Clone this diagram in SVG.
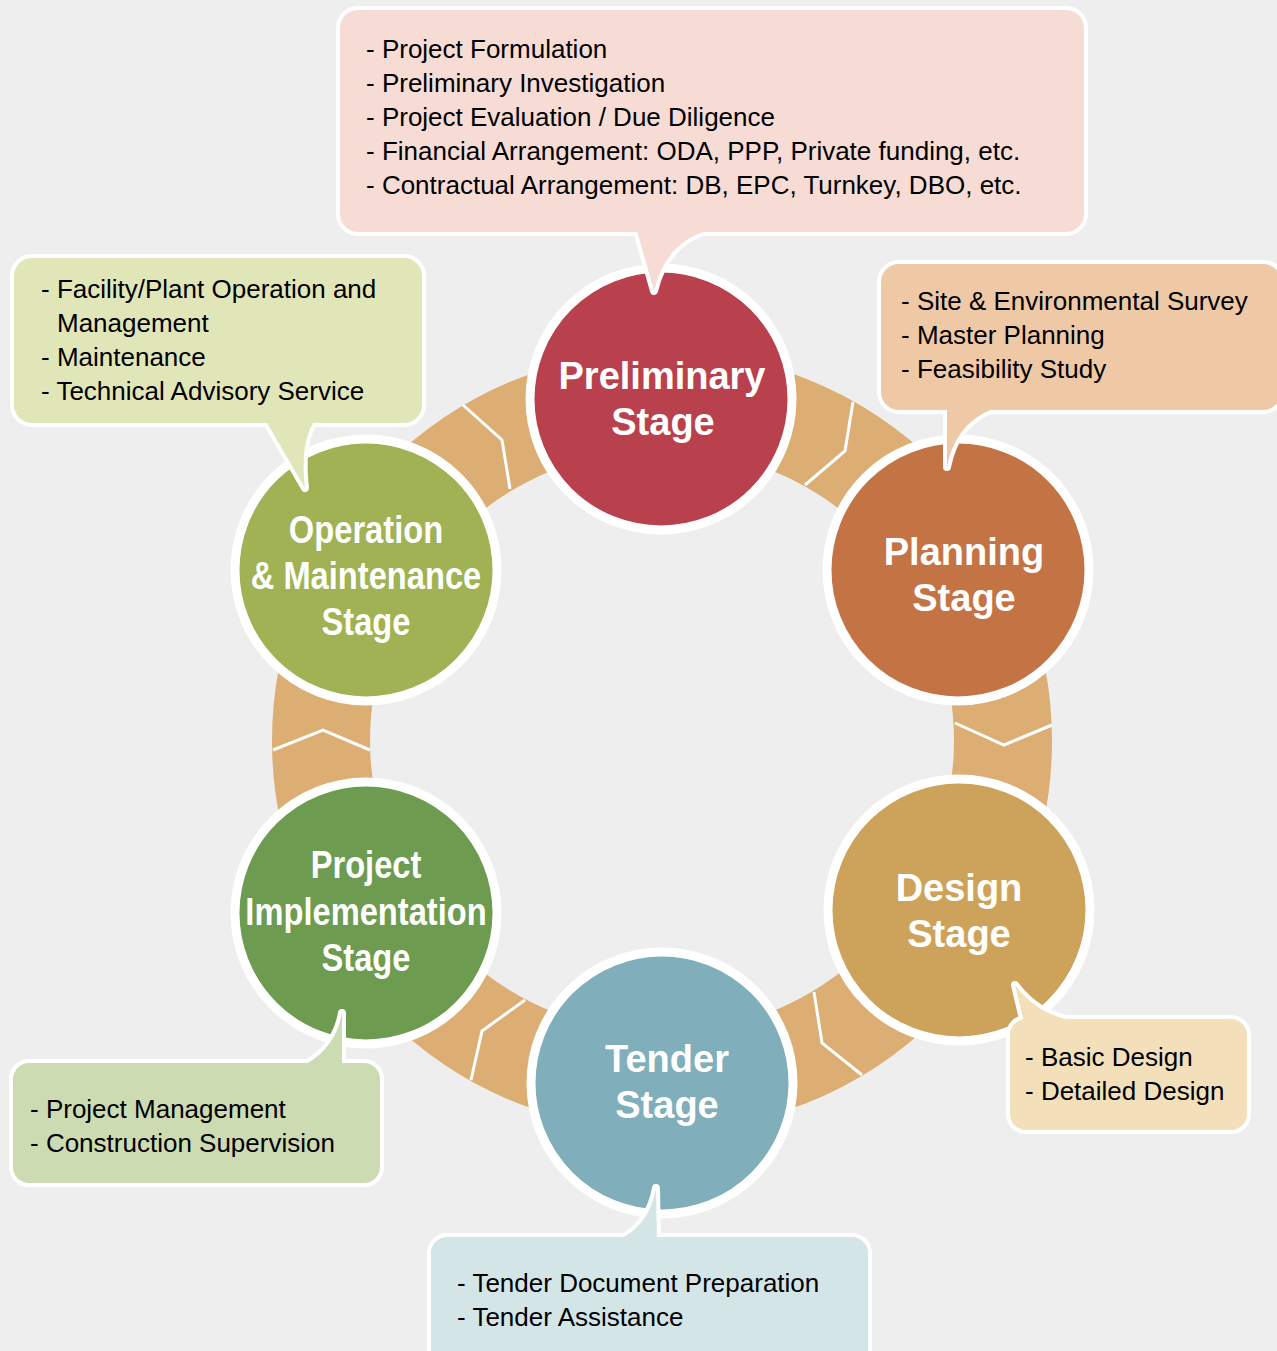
<svg xmlns="http://www.w3.org/2000/svg" width="1277" height="1351" viewBox="0 0 1277 1351">
<style>
.stage{stroke:#fff;stroke-width:9}
.title{font-family:"Liberation Sans",Arial,Helvetica,sans-serif;font-weight:bold;font-size:38px;fill:#fff;text-anchor:middle}
.body{font-family:"Liberation Sans",Arial,Helvetica,sans-serif;font-size:26px;fill:#000}
.cs{stroke:#fff;stroke-width:8;stroke-linejoin:round}
.chev{fill:none;stroke:#fff;stroke-width:3}
</style>
<rect x="0" y="0" width="1277" height="1351" fill="#EEEEEE"/>
<g id="connectors">
  <circle cx="662" cy="741" r="341" fill="none" stroke="#DCAE73" stroke-width="98"/>
  <path class="chev" d="M463,405 L502,440 L510,489"/>
  <path class="chev" d="M853,402 L845,451 L805,485"/>
  <path class="chev" d="M955,723 L1004,745 L1052,725"/>
  <path class="chev" d="M862,1075 L822,1043 L814,992"/>
  <path class="chev" d="M471,1080 L482,1031 L525,1000"/>
  <path class="chev" d="M273,750 L323,730 L370,750"/>
</g>
<g id="preliminary">
  <circle class="stage" cx="661" cy="399" r="131" fill="#B9414D"/>
  <text class="title" x="662" y="389">Preliminary</text>
  <text class="title" x="663" y="435">Stage</text>
</g>
<g id="planning">
  <circle class="stage" cx="958" cy="570" r="131" fill="#C47345"/>
  <text class="title" x="964" y="565">Planning</text>
  <text class="title" x="964" y="611">Stage</text>
</g>
<g id="design">
  <circle class="stage" cx="959" cy="910" r="131" fill="#CDA35B"/>
  <text class="title" x="959" y="901">Design</text>
  <text class="title" x="959" y="947">Stage</text>
</g>
<g id="tender">
  <circle class="stage" cx="662" cy="1083" r="131" fill="#80AEBA"/>
  <text class="title" x="667" y="1072">Tender</text>
  <text class="title" x="667" y="1118">Stage</text>
</g>
<g id="implementation">
  <circle class="stage" cx="366" cy="913" r="131" fill="#6D9C51"/>
  <text class="title" transform="translate(366 0) scale(0.86 1)" x="0" y="878">Project</text>
  <text class="title" transform="translate(366 0) scale(0.86 1)" x="0" y="925">Implementation</text>
  <text class="title" transform="translate(366 0) scale(0.86 1)" x="0" y="971">Stage</text>
</g>
<g id="operation">
  <circle class="stage" cx="366" cy="570" r="131" fill="#A0B253"/>
  <text class="title" transform="translate(366 0) scale(0.86 1)" x="0" y="543">Operation</text>
  <text class="title" transform="translate(366 0) scale(0.86 1)" x="0" y="589">&amp; Maintenance</text>
  <text class="title" transform="translate(366 0) scale(0.86 1)" x="0" y="635">Stage</text>
</g>
<g id="callout-preliminary">
  <rect class="cs" x="340" y="10" width="744" height="222" rx="18" fill="#F6DCD5"/>
  <path class="cs" d="M637,226 L637,231 L654,291 Q666,242 707,231 L707,226 Z" fill="#F6DCD5"/>
  <rect x="340" y="10" width="744" height="222" rx="18" fill="#F6DCD5"/>
  <path d="M637,226 L637,231 L654,291 Q666,242 707,231 L707,226 Z" fill="#F6DCD5"/>
  <text class="body" x="366" y="58">- Project Formulation</text>
  <text class="body" x="366" y="92">- Preliminary Investigation</text>
  <text class="body" x="366" y="126">- Project Evaluation / Due Diligence</text>
  <text class="body" x="366" y="160">- Financial Arrangement: ODA, PPP, Private funding, etc.</text>
  <text class="body" x="366" y="194">- Contractual Arrangement: DB, EPC, Turnkey, DBO, etc.</text>
</g>
<g id="callout-planning">
  <rect class="cs" x="881" y="264" width="400" height="146" rx="18" fill="#EFC9A6"/>
  <path class="cs" d="M947,404 L947,467 Q955,425 990,410 L990,404 Z" fill="#EFC9A6"/>
  <rect x="881" y="264" width="400" height="146" rx="18" fill="#EFC9A6"/>
  <path d="M947,404 L947,467 Q955,425 990,410 L990,404 Z" fill="#EFC9A6"/>
  <text class="body" x="901" y="310">- Site &amp; Environmental Survey</text>
  <text class="body" x="901" y="344">- Master Planning</text>
  <text class="body" x="901" y="378">- Feasibility Study</text>
</g>
<g id="callout-operation">
  <rect class="cs" x="14" y="258" width="408" height="165" rx="18" fill="#E1E6B9"/>
  <path class="cs" d="M267,417 L267,423 L305,488 Q300,445 313,423 L313,417 Z" fill="#E1E6B9"/>
  <rect x="14" y="258" width="408" height="165" rx="18" fill="#E1E6B9"/>
  <path d="M267,417 L267,423 L305,488 Q300,445 313,423 L313,417 Z" fill="#E1E6B9"/>
  <text class="body" x="41" y="298">- Facility/Plant Operation and</text>
  <text class="body" x="57" y="332">Management</text>
  <text class="body" x="41" y="366">- Maintenance</text>
  <text class="body" x="41" y="400">- Technical Advisory Service</text>
</g>
<g id="callout-implementation">
  <rect class="cs" x="13" y="1063" width="367" height="120" rx="16" fill="#CDDBB2"/>
  <path class="cs" d="M308,1069 L308,1063 Q336,1046 342,1013 L342,1069 Z" fill="#CDDBB2"/>
  <rect x="13" y="1063" width="367" height="120" rx="16" fill="#CDDBB2"/>
  <path d="M308,1069 L308,1063 Q336,1046 342,1013 L342,1069 Z" fill="#CDDBB2"/>
  <text class="body" x="30" y="1118">- Project Management</text>
  <text class="body" x="30" y="1152">- Construction Supervision</text>
</g>
<g id="callout-design">
  <rect class="cs" x="1010" y="1019" width="237" height="111" rx="16" fill="#F3E0BB"/>
  <path class="cs" d="M1023,1026 L1023,1019 L1015,985 Q1035,1012 1066,1019 L1066,1026 Z" fill="#F3E0BB"/>
  <rect x="1010" y="1019" width="237" height="111" rx="16" fill="#F3E0BB"/>
  <path d="M1023,1026 L1023,1019 L1015,985 Q1035,1012 1066,1019 L1066,1026 Z" fill="#F3E0BB"/>
  <text class="body" x="1025" y="1066">- Basic Design</text>
  <text class="body" x="1025" y="1100">- Detailed Design</text>
</g>
<g id="callout-tender">
  <rect class="cs" x="431" y="1237" width="437" height="130" rx="16" fill="#D4E5E8"/>
  <path class="cs" d="M624,1243 L624,1237 Q650,1222 656,1188 L657,1243 Z" fill="#D4E5E8"/>
  <rect x="431" y="1237" width="437" height="130" rx="16" fill="#D4E5E8"/>
  <path d="M624,1243 L624,1237 Q650,1222 656,1188 L657,1243 Z" fill="#D4E5E8"/>
  <text class="body" x="457" y="1292">- Tender Document Preparation</text>
  <text class="body" x="457" y="1326">- Tender Assistance</text>
</g>
</svg>
